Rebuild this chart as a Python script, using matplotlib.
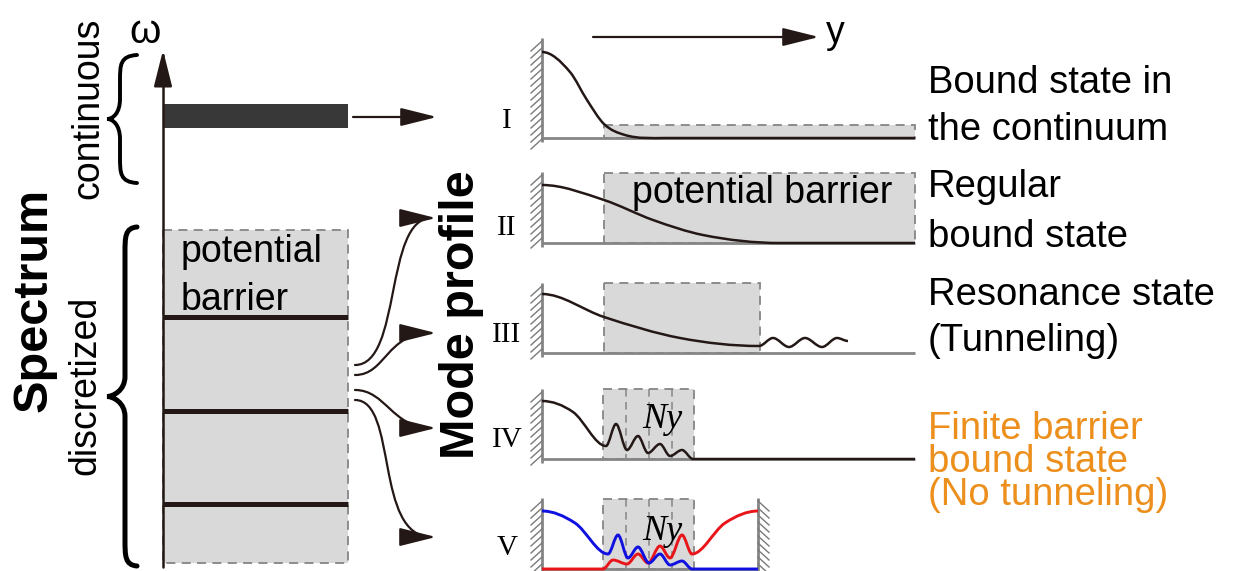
import numpy as np
import matplotlib.pyplot as plt
from matplotlib.path import Path
from matplotlib.patches import PathPatch, FancyArrowPatch, Rectangle

plt.rcParams['font.family'] = ['Liberation Sans', 'DejaVu Sans']

# canvas in pixel units (y grows downwards, like the picture)
W, H = 1242, 571
BLACK = '#231815'
GRAY = '#858585'
FILL = '#d9d9d9'
ORANGE = '#ec8f1c'
BLUE = '#1010e0'
RED = '#e8161b'

# ── spectrum (left part) ─────────────────────────────────────────────────────
AXIS_X = 163
AXIS_Y = (567, 50)
BAND_X = (163, 348)
CONT_BAND_Y = (104, 128)
DISC_BOX_Y = (230, 563)
LEVEL_Y = [317, 411, 504]
CONT_BRACE = (55, 183)          # top, bottom
DISC_BRACE = (227, 566)
ARROW_START = [(355, 365), (355, 375), (355, 390), (355, 400)]
ARROW_END = [(436, 218), (436, 333), (436, 428), (436, 537)]
ARROW_CTRL = [((402, 365), (384, 218)), ((386, 375), (386, 333)),
              ((386, 390), (392, 428)), ((398, 400), (374, 537))]

# ── mode profile panels ──────────────────────────────────────────────────────
NUMERALS = ['I', 'II', 'III', 'IV', 'V']
NUMERAL_Y = [128, 235, 342, 447, 555]
BASE_Y = [138, 243, 353, 459, 569]
WALL_TOP = [38, 172, 283, 389, 498]
BOX_X = [(604, 915), (604, 915), (604, 760), (603, 694), (603, 694)]
BOX_TOP = [125, 173, 283, 389, 499]
BASE_END = [915, 915, 915, 915, 758]
WALL_X = 542
RIGHT_WALL_X = 758
CELL_X = [626, 649, 672]

PROFILE_I = [(542, 52), (570, 72), (587, 100), (604, 124), (625, 135),
             (665, 138), (915, 138)]
PROFILE_II = [(542, 185), (604, 200), (653, 220), (703, 235), (780, 243),
              (915, 243)]
PROFILE_III = [(542, 294), (604, 317), (680, 338), (759, 346), (773, 338),
               (789, 347), (805, 338), (822, 347), (837, 338), (848, 341)]
PROFILE_IV = [(542, 401), (573, 412), (606, 446), (616, 424), (627, 450),
              (638, 436), (648, 453), (660, 444), (670, 456), (682, 450),
              (693, 459), (915, 459)]
PROFILE_V_BLUE = [(542, 511), (575, 523), (608, 554), (618, 535), (628, 558),
                  (638, 547), (649, 563), (660, 554), (670, 565), (682, 561),
                  (692, 569), (758, 569)]
PROFILE_V_RED = [(542, 569), (603, 569), (613, 560), (627, 564), (638, 554),
                 (648, 563), (660, 546), (670, 558), (682, 535), (692, 554),
                 (725, 523), (758, 511)]

LABEL_X = 928
LABELS = [('Bound state in', 93), ('the continuum', 140),
          ('Regular', 197), ('bound state', 247),
          ('Resonance state', 305), ('(Tunneling)', 351)]
ORANGE_LABEL = 'Finite barrier\nbound state\n(No tunneling)'
ORANGE_TOP = 411


def smooth_path(pts):
    p = np.asarray(pts, float)
    x, y = p[:, 0], p[:, 1]
    d = np.diff(y) / np.diff(x)
    m = np.zeros(len(p))
    for i in range(1, len(p) - 1):
        if d[i - 1] * d[i] > 0:
            m[i] = (d[i - 1] + d[i]) / 2
    verts, codes = [tuple(p[0])], [Path.MOVETO]
    for i in range(len(p) - 1):
        h = (x[i + 1] - x[i]) / 3
        verts += [(x[i] + h, y[i] + m[i] * h),
                  (x[i + 1] - h, y[i + 1] - m[i + 1] * h),
                  (x[i + 1], y[i + 1])]
        codes += [Path.CURVE4] * 3
    return Path(verts, codes)


def brace(ax, top, bot, spine, tip=107, right=137, lw=3.0):
    mid = (top + bot) / 2
    verts = [(right, top), (spine, top + 1), (spine, top + 10), (spine, top + 26),
             (spine, mid - 20),
             (spine, mid - 6), (tip + 6, mid), (tip, mid),
             (tip + 6, mid), (spine, mid + 6), (spine, mid + 20),
             (spine, bot - 26),
             (spine, bot - 10), (spine, bot - 1), (right, bot)]
    codes = [Path.MOVETO] + [Path.CURVE4] * 3 + [Path.LINETO] + [Path.CURVE4] * 6 \
        + [Path.LINETO] + [Path.CURVE4] * 3
    ax.add_patch(PathPatch(Path(verts, codes), fc='none', ec='black', lw=lw,
                           capstyle='round'))


def wall(ax, x, y0, y1, side=-1):
    ax.plot([x, x], [y0, min(y1, H)], color=GRAY, lw=2, solid_capstyle='butt', zorder=3)
    for yy in np.arange(y0 + 3, y1 - 2, 7):
        ax.plot([x, x + side * 11], [yy, yy + 10], color='#7a7a7a', lw=1.0, zorder=3)


def arrow(ax, path, lw=1.6):
    ax.add_patch(FancyArrowPatch(path=path, arrowstyle='-|>,head_length=1.6,head_width=0.4',
                                 mutation_scale=14, lw=lw, color=BLACK, zorder=5))


fig = plt.figure(figsize=(W / 100, H / 100), dpi=100)
ax = fig.add_axes([0, 0, 1, 1])
ax.set_xlim(0, W)
ax.set_ylim(H, 0)
ax.axis('off')

# ── spectrum ─────────────────────────────────────────────────────────────────
ax.add_patch(Rectangle((BAND_X[0], DISC_BOX_Y[0]), BAND_X[1] - BAND_X[0],
                       DISC_BOX_Y[1] - DISC_BOX_Y[0], fc=FILL, ec=GRAY, lw=1.3,
                       ls=(0, (5, 3.5)), zorder=1))
ax.add_patch(Rectangle((BAND_X[0], CONT_BAND_Y[0]), BAND_X[1] - BAND_X[0],
                       CONT_BAND_Y[1] - CONT_BAND_Y[0], fc='#383838', ec='none', zorder=2))
for ly in LEVEL_Y:
    ax.plot(BAND_X, [ly, ly], color=BLACK, lw=3.6, solid_capstyle='butt', zorder=2)

arrow(ax, Path([(AXIS_X, AXIS_Y[0]), (AXIS_X, AXIS_Y[1])]), lw=1.8)
arrow(ax, Path([(353, 117), (437, 117)]), lw=1.6)
for s, e, (c1, c2) in zip(ARROW_START, ARROW_END, ARROW_CTRL):
    arrow(ax, Path([s, c1, c2, e], [Path.MOVETO] + [Path.CURVE4] * 3), lw=1.6)

brace(ax, *CONT_BRACE, spine=120, lw=2.8)
brace(ax, *DISC_BRACE, spine=125, lw=3.6)

ax.text(145, 43, 'ω', fontsize=29, ha='center', va='baseline')
ax.text(34, 300, 'Spectrum', fontsize=35, fontweight='bold', rotation=90,
        ha='center', va='center')
ax.text(88, 108, 'continuous', fontsize=27, rotation=90, ha='center', va='center')
ax.text(85, 385, 'discretized', fontsize=27, rotation=90, ha='center', va='center')
ax.text(181, 262, 'potential', fontsize=27, va='baseline', zorder=4)
ax.text(181, 310, 'barrier', fontsize=27, va='baseline', zorder=4)

# ── mode profiles ────────────────────────────────────────────────────────────
ax.text(462, 315, 'Mode profile', fontsize=35, fontweight='bold', rotation=90,
        ha='center', va='center')
arrow(ax, Path([(593, 37), (819, 37)]), lw=1.6)
ax.text(826, 43, 'y', fontsize=27, va='baseline')

for i in range(5):
    x0, x1 = BOX_X[i]
    ax.add_patch(Rectangle((x0, BOX_TOP[i]), x1 - x0, BASE_Y[i] - BOX_TOP[i],
                           fc=FILL, ec=GRAY, lw=1.3, ls=(0, (5, 3.5)), zorder=1))
    ax.plot([WALL_X, BASE_END[i]], [BASE_Y[i], BASE_Y[i]], color=GRAY, lw=2,
            solid_capstyle='butt', zorder=2)
    wall(ax, WALL_X, WALL_TOP[i], BASE_Y[i] + 4)
    ax.text(507, NUMERAL_Y[i], NUMERALS[i], fontsize=21, family='Liberation Serif',
            ha='center', va='baseline')
    if i >= 3:
        for cx in CELL_X:
            ax.plot([cx, cx], [BOX_TOP[i], BASE_Y[i]], color=GRAY, lw=1.1,
                    ls=(0, (5, 3.5)), zorder=1)

wall(ax, RIGHT_WALL_X, WALL_TOP[4], BASE_Y[4] + 4, side=1)

ax.text(632, 203, 'potential barrier', fontsize=27, va='baseline', zorder=4)
for ny_y in (428, 540):
    ax.text(662, ny_y, 'Ny', fontsize=26, family='Liberation Serif', style='italic',
            ha='center', va='baseline', zorder=4)

for prof in (PROFILE_I, PROFILE_II, PROFILE_III, PROFILE_IV):
    ax.add_patch(PathPatch(smooth_path(prof), fc='none', ec=BLACK, lw=1.8, zorder=4))
ax.add_patch(PathPatch(smooth_path(PROFILE_V_RED), fc='none', ec=RED, lw=2.1, zorder=4))
ax.add_patch(PathPatch(smooth_path(PROFILE_V_BLUE), fc='none', ec=BLUE, lw=2.1, zorder=4))

for txt, by in LABELS:
    ax.text(LABEL_X, by, txt, fontsize=27.5, color='black', va='baseline')
ax.text(LABEL_X, ORANGE_TOP, ORANGE_LABEL, fontsize=27.5, color=ORANGE, va='top',
        linespacing=0.9)

fig.savefig('out.png', dpi=100)
